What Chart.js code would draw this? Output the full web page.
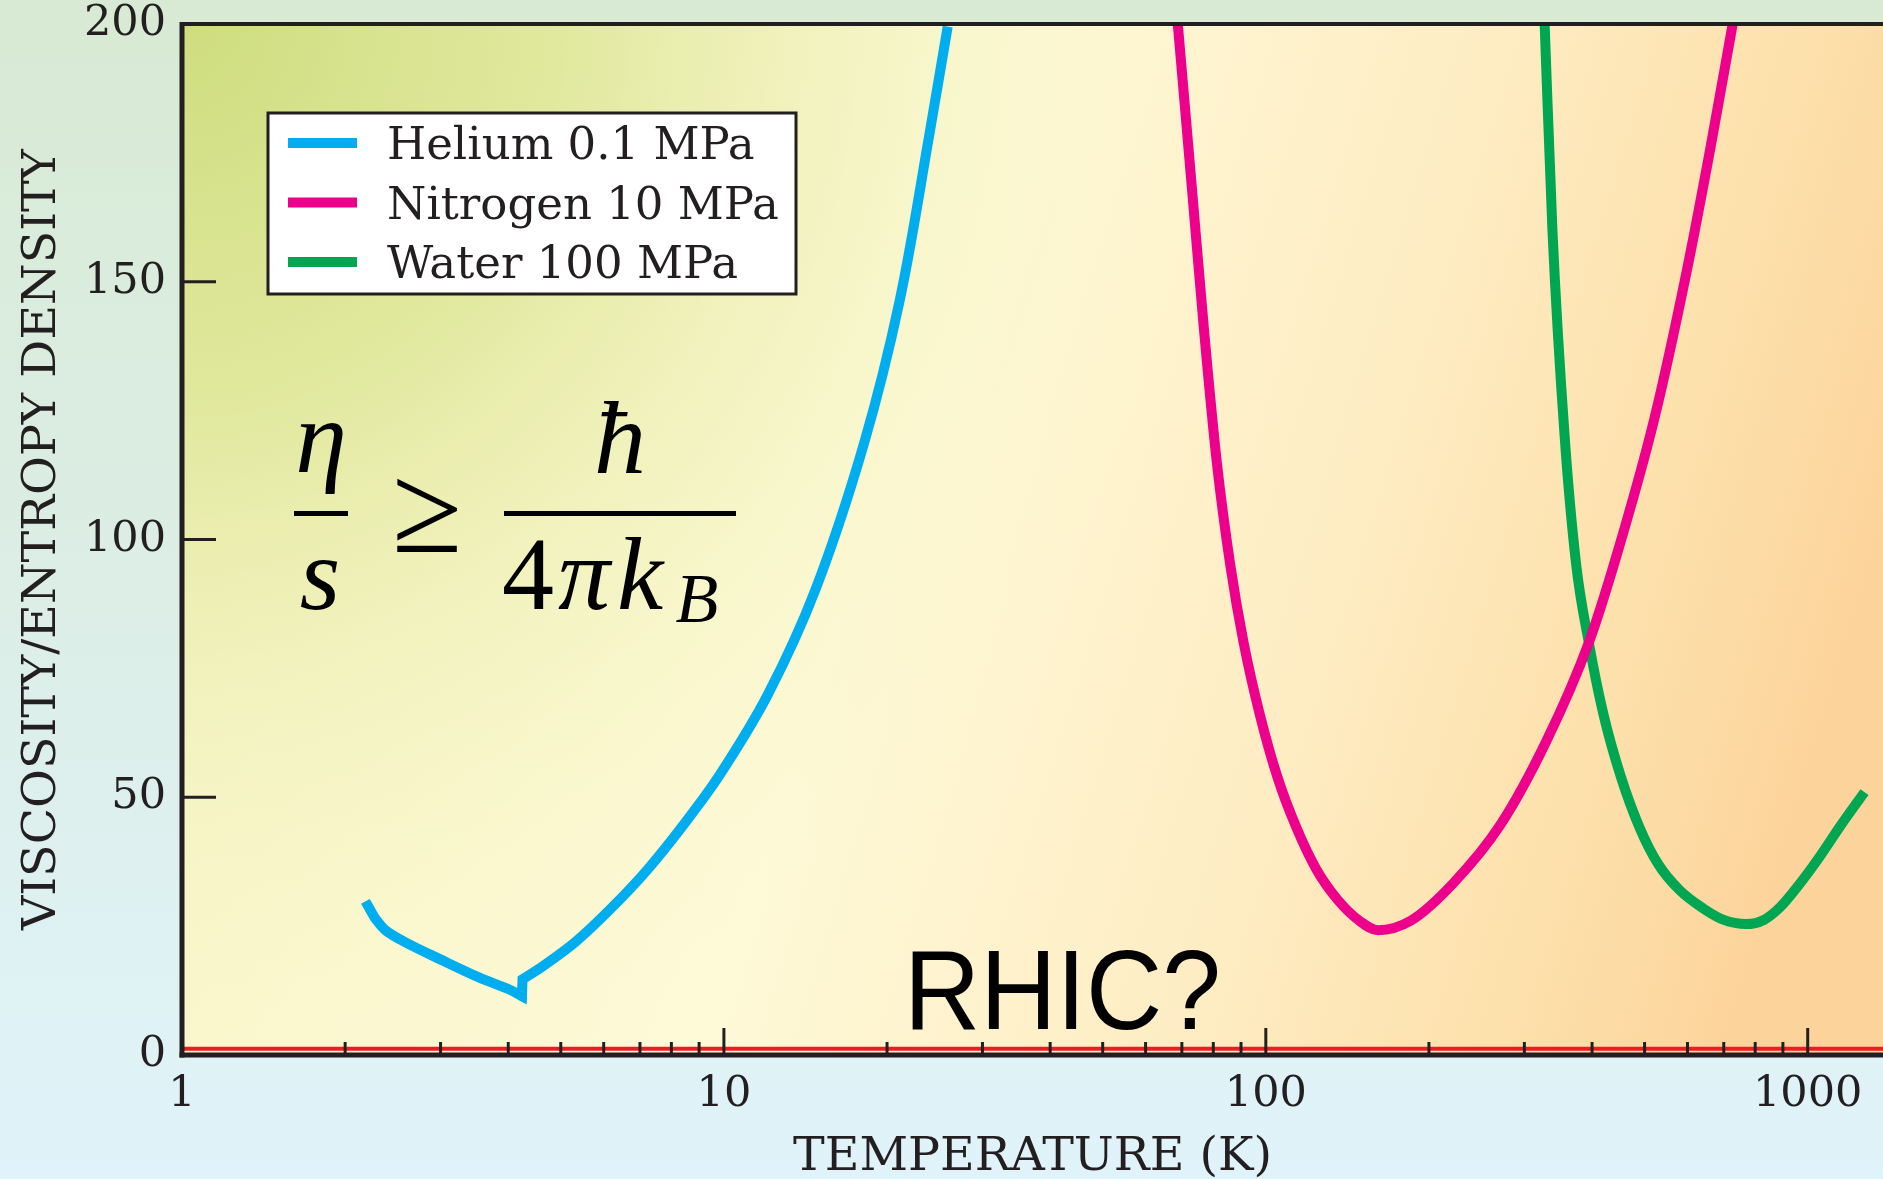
<!DOCTYPE html>
<html>
<head>
<meta charset="utf-8">
<title>Viscosity / entropy density vs temperature</title>
<script src="https://cdn.jsdelivr.net/npm/chart.js@4.4.0/dist/chart.umd.min.js"></script>
<style>
  html, body { margin: 0; padding: 0; overflow: hidden; background: #dcefe8; }
  canvas { display: block; }
</style>
</head>
<body>
<canvas id="viscosityChart" width="1883" height="1179"></canvas>
<script>
// Helium at 0.1 MPa: drops to the cusp near 4.2 K, then climbs steeply.
// The cusp points are repeated so the spline keeps the corner sharp.
const heliumTemp = [2.18, 2.23, 2.28, 2.38, 2.59, 2.99, 3.54, 4.0, 4.24, 4.24, 4.25, 4.25, 4.6, 5.33, 6.2,
                    7.23, 8.4, 9.82, 12.05, 14.77, 18.11, 21.11, 23.98, 25.88];
const heliumEtaS = [29.8, 28.0, 26.3, 24.1, 21.8, 18.6, 15.0, 12.8, 11.4, 11.4, 14.7, 14.7, 17.0, 22.0, 28.5,
                    36.0, 44.5, 54.3, 69.9, 90.4, 118.4, 146.4, 179, 199.5];

// Nitrogen at 10 MPa
const nitrogenTemp = [68.8, 72.8, 77.0, 81.2, 86.0, 91.0, 97.5, 105, 114, 124, 136, 149, 161,
                      185.4, 221.7, 270.4, 329.8, 394.5, 444.2, 520.8, 598.4, 661, 727];
const nitrogenEtaS = [200, 170, 140, 115, 95, 80, 66, 54, 44, 36, 30, 26, 24.2,
                      26.1, 33.3, 44.5, 61, 80, 97, 123.3, 152.2, 175.8, 200];

// Water at 100 MPa
const waterTemp = [327, 338, 356, 374, 394.5, 420, 452, 490, 530, 580, 640, 700, 770,
                   830, 890, 960, 1043, 1150, 1273];
const waterEtaS = [200, 160, 120, 95, 80, 66, 54, 44, 37, 32, 28.5, 26.2, 25.4,
                   26.2, 28.7, 32.8, 37.9, 44.5, 51];

// Quantum lower bound, drawn as a flat red line just above zero
const boundTemp = [1, 1377];
const boundEtaS = [1.2, 1.2];

const seriesLabels = ['Helium 0.1 MPa', 'Nitrogen 10 MPa', 'Water 100 MPa'];
const seriesColors = ['#00aeef', '#ec008c', '#00a651'];

const xTickValues = [1, 10, 100, 1000];
const yTickValues = [0, 50, 100, 150, 200];
const xTitle = 'TEMPERATURE (K)';
const yTitle = 'VISCOSITY/ENTROPY DENSITY';

const INK = '#231f20';
const SERIF = '"DejaVu Serif", serif';
const MATH = '"Liberation Serif", "Times New Roman", serif';

const toPoints = (xs, ys) => xs.map((x, i) => ({ x: x, y: ys[i] }));

// Page background and the tinted plot panel
const backdrop = {
    id: 'backdrop',
    beforeDraw(chart) {
        const { ctx, width, height, chartArea: a } = chart;
        ctx.save();
        let g = ctx.createLinearGradient(0, 0, 0, height);
        g.addColorStop(0, '#d8ead3');
        g.addColorStop(0.5, '#dceee6');
        g.addColorStop(1, '#e0f3fa');
        ctx.fillStyle = g;
        ctx.fillRect(0, 0, width, height);

        // pale yellow turning orange towards the hot end
        g = ctx.createLinearGradient(a.left, a.top, a.right, a.top + 520);
        g.addColorStop(0, '#f8f4c6');
        g.addColorStop(0.45, '#fef9d7');
        g.addColorStop(0.7, '#feedc4');
        g.addColorStop(0.88, '#fde0ab');
        g.addColorStop(1, '#fcd49b');
        ctx.fillStyle = g;
        ctx.fillRect(a.left, a.top, a.width, a.height);

        // greenish glow in the cold corner
        const r = ctx.createRadialGradient(a.left, a.top, 0, a.left, a.top, 1080);
        r.addColorStop(0, 'rgba(206,221,126,1)');
        r.addColorStop(0.35, 'rgba(218,229,146,0.8)');
        r.addColorStop(0.7, 'rgba(236,240,180,0.32)');
        r.addColorStop(1, 'rgba(250,248,205,0)');
        ctx.fillStyle = r;
        ctx.fillRect(a.left, a.top, a.width, a.height);
        ctx.restore();
    }
};

// Formula and the RHIC note inside the plot
const annotations = {
    id: 'annotations',
    beforeDatasetsDraw(chart) {
        const { ctx, chartArea: a } = chart;
        const ox = a.left, oy = a.top;
        ctx.save();
        ctx.fillStyle = '#000';
        ctx.textAlign = 'center';
        ctx.textBaseline = 'alphabetic';

        // eta over s
        ctx.font = 'italic 104px ' + MATH;
        ctx.fillText('\u03b7', ox + 139, oy + 448);
        ctx.fillText('s', ox + 138, oy + 585);
        ctx.fillRect(ox + 112, oy + 487, 54, 5);

        // greater or equal
        ctx.font = '128px ' + MATH;
        ctx.fillText('\u2265', ox + 245, oy + 528);

        // hbar over 4 pi k_B
        ctx.font = 'italic 104px ' + MATH;
        ctx.fillText('\u0127', ox + 438, oy + 449);
        ctx.fillRect(ox + 322, oy + 487, 232, 5);
        ctx.font = '104px ' + MATH;
        ctx.fillText('4', ox + 346, oy + 585);
        ctx.font = 'italic 104px ' + MATH;
        ctx.fillText('\u03c0', ox + 402, oy + 585);
        ctx.fillText('k', ox + 458, oy + 585);
        ctx.font = 'italic 70px ' + MATH;
        ctx.fillText('B', ox + 515, oy + 598);

        // RHIC?
        ctx.textAlign = 'left';
        ctx.font = '113px "Liberation Sans", Arial, sans-serif';
        ctx.translate(ox + 722, oy + 1005);
        ctx.scale(0.935, 1);
        ctx.fillText('RHIC?', 0, 0);
        ctx.restore();
    }
};

// Axis frame, inward tick marks and the boxed legend
const frameAndLegend = {
    id: 'frameAndLegend',
    afterDatasetsDraw(chart) {
        const { ctx, chartArea: a, scales } = chart;
        const xs = scales.x, ys = scales.y;
        const seg = (x1, y1, x2, y2) => {
            ctx.beginPath();
            ctx.moveTo(x1, y1);
            ctx.lineTo(x2, y2);
            ctx.stroke();
        };
        ctx.save();
        ctx.strokeStyle = INK;
        ctx.lineCap = 'butt';

        ctx.lineWidth = 3;
        yTickValues.slice(1, -1).forEach(v => {
            const py = ys.getPixelForValue(v);
            seg(a.left, py, a.left + 34, py);
        });
        [1, 10, 100].forEach(decade => {
            for (let m = 1; m <= 9; m++) {
                const v = decade * m;
                if (v === 1 || v > xs.max) continue;
                const px = xs.getPixelForValue(v);
                seg(px, a.bottom, px, a.bottom - (m === 1 ? 27 : 13));
            }
        });
        const px1000 = xs.getPixelForValue(1000);
        seg(px1000, a.bottom, px1000, a.bottom - 27);

        ctx.lineWidth = 5;
        seg(a.left, a.top - 2, a.left, a.bottom + 2.5);
        seg(a.left - 2.5, a.bottom, a.right, a.bottom);
        ctx.lineWidth = 4;
        seg(a.left, a.top, a.right, a.top);

        // legend box
        const lx = a.left + 86, ly = a.top + 89, lw = 528, lh = 181;
        ctx.fillStyle = '#ffffff';
        ctx.fillRect(lx, ly, lw, lh);
        ctx.lineWidth = 3;
        ctx.strokeRect(lx, ly, lw, lh);
        ctx.font = '45px ' + SERIF;
        ctx.textAlign = 'left';
        ctx.textBaseline = 'alphabetic';
        chart.data.datasets
            .filter(d => seriesLabels.includes(d.label))
            .forEach((d, i) => {
                const cy = ly + 30 + i * 59.5;
                ctx.strokeStyle = d.borderColor;
                ctx.lineWidth = 10;
                seg(lx + 20, cy, lx + 89, cy);
                ctx.fillStyle = INK;
                ctx.fillText(d.label, lx + 119, cy + 16);
            });
        ctx.restore();
    }
};

const curve = (label, color, xs, ys, extra) => Object.assign({
    label: label,
    data: toPoints(xs, ys),
    borderColor: color,
    backgroundColor: color,
    borderWidth: 10,
    pointRadius: 0,
    fill: false,
    borderCapStyle: 'butt',
    borderJoinStyle: 'miter'
}, extra || {});

new Chart(document.getElementById('viscosityChart'), {
    type: 'line',
    data: {
        datasets: [
            curve(seriesLabels[0], seriesColors[0], heliumTemp, heliumEtaS, { tension: 0.35 }),
            curve(seriesLabels[1], seriesColors[1], nitrogenTemp, nitrogenEtaS, { cubicInterpolationMode: 'monotone' }),
            curve(seriesLabels[2], seriesColors[2], waterTemp, waterEtaS, { cubicInterpolationMode: 'monotone' }),
            curve('bound', '#ed1c24', boundTemp, boundEtaS, { borderWidth: 4, tension: 0 })
        ]
    },
    options: {
        responsive: false,
        devicePixelRatio: 1,
        animation: false,
        layout: { padding: { left: 0, top: 24, right: 0, bottom: 0 } },
        plugins: {
            legend: { display: false },
            tooltip: { enabled: false }
        },
        scales: {
            x: {
                type: 'logarithmic',
                min: 1,
                max: 1377,
                grid: { display: false, drawTicks: false },
                border: { display: false },
                afterBuildTicks(scale) {
                    scale.ticks = xTickValues.map(v => ({ value: v }));
                },
                afterFit(scale) {
                    scale.height = 124;
                    scale.paddingLeft = 0;
                    scale.paddingRight = 0;
                },
                ticks: {
                    autoSkip: false,
                    maxRotation: 0,
                    padding: 14,
                    color: INK,
                    font: { family: SERIF, size: 43 },
                    callback: v => (xTickValues.includes(v) ? String(v) : '')
                },
                title: {
                    display: true,
                    text: xTitle,
                    color: INK,
                    font: { family: SERIF, size: 47.5, lineHeight: 1 },
                    padding: { top: 0, bottom: -2 }
                }
            },
            y: {
                type: 'linear',
                min: 0,
                max: 200,
                grid: { display: false, drawTicks: false },
                border: { display: false },
                afterBuildTicks(scale) {
                    scale.ticks = yTickValues.map(v => ({ value: v }));
                },
                afterFit(scale) {
                    scale.width = 182;
                    scale.paddingTop = 0;
                    scale.paddingBottom = 0;
                },
                ticks: {
                    padding: 16,
                    color: INK,
                    font: { family: SERIF, size: 43 }
                },
                title: {
                    display: true,
                    text: yTitle,
                    color: INK,
                    font: { family: SERIF, size: 47.5, lineHeight: 1 },
                    padding: { top: 19, bottom: 0 }
                }
            }
        }
    },
    plugins: [backdrop, annotations, frameAndLegend]
});
</script>
</body>
</html>
